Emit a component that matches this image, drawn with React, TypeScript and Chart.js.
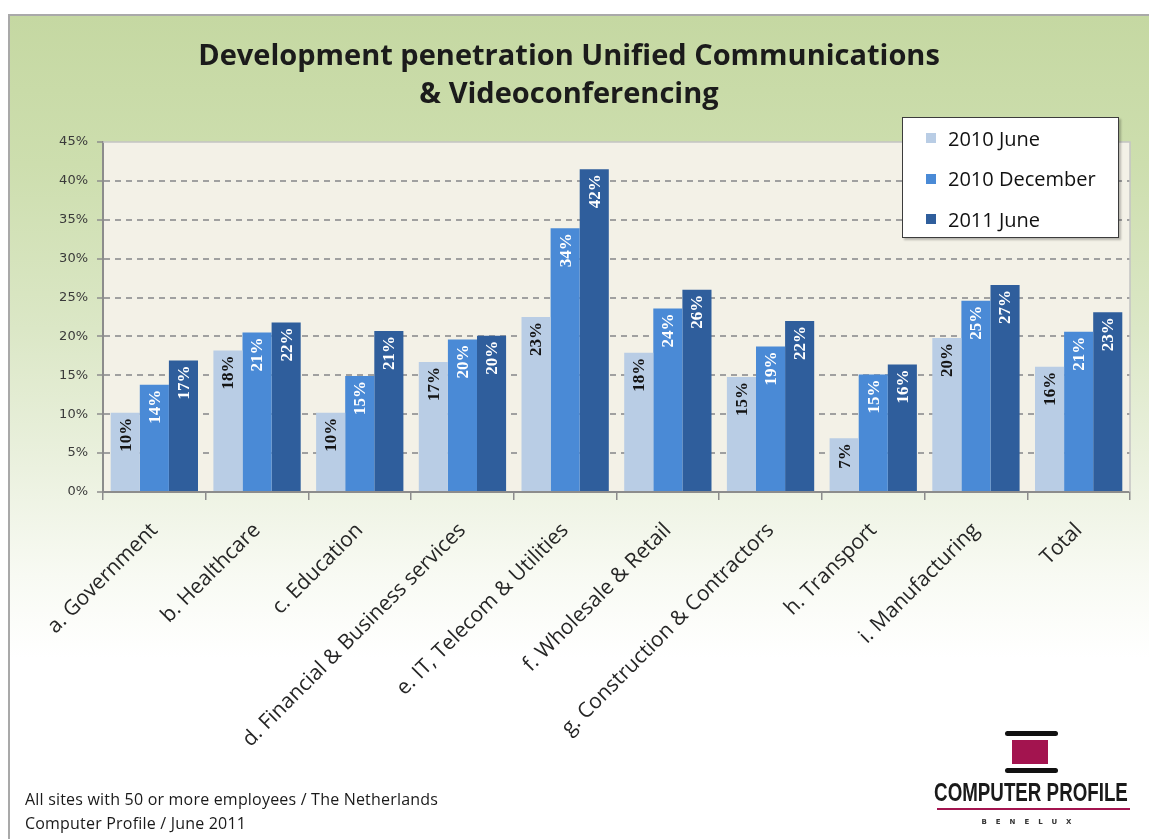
import React, { useEffect, useRef } from "react";
import { Chart, registerables } from "chart.js";

Chart.register(...registerables);

// ---------- data ----------
const categories = [
  "a. Government",
  "b. Healthcare",
  "c. Education",
  "d. Financial & Business services",
  "e. IT, Telecom & Utilities",
  "f. Wholesale & Retail",
  "g. Construction & Contractors",
  "h. Transport",
  "i. Manufacturing",
  "Total",
];
const seriesNames = ["2010 June", "2010 December", "2011 June"];
const june2010 = [10.2, 18.2, 10.2, 16.7, 22.5, 17.9, 14.8, 6.9, 19.8, 16.1];
const december2010 = [13.8, 20.5, 14.9, 19.6, 33.9, 23.6, 18.7, 15.1, 24.6, 20.6];
const june2011 = [16.9, 21.8, 20.7, 20.1, 41.5, 26.0, 22.0, 16.4, 26.6, 23.1];
const june2010Labels = [10, 18, 10, 17, 23, 18, 15, 7, 20, 16];
const december2010Labels = [14, 21, 15, 20, 34, 24, 19, 15, 25, 21];
const june2011Labels = [17, 22, 21, 20, 42, 26, 22, 16, 27, 23];
const yTickValues = [0, 5, 10, 15, 20, 25, 30, 35, 40, 45];
const titleLines = ["Development penetration Unified Communications", "& Videoconferencing"];
const footerLines = ["All sites with 50 or more employees / The Netherlands", "Computer Profile / June 2011"];

const seriesColors = ["#b9cde5", "#4a8ad6", "#2f5e9c"];
const labelColors = ["#141414", "#ffffff", "#ffffff"];
const seriesValues = [june2010, december2010, june2011];
const seriesLabels = [june2010Labels, december2010Labels, june2011Labels];

const W = 1149;
const H = 839;
const PLOT_BOTTOM = 492;

const plotBackground = {
  id: "plotBackground",
  beforeDraw(chart: any) {
    const { ctx, chartArea: a } = chart;
    ctx.save();
    ctx.fillStyle = "#f3f1e7";
    ctx.fillRect(a.left, a.top, a.right - a.left, a.bottom - a.top);
    ctx.restore();
  },
  afterDraw(chart: any) {
    const { ctx, chartArea: a } = chart;
    ctx.save();
    ctx.strokeStyle = "#c4c4c4";
    ctx.lineWidth = 1.5;
    ctx.beginPath();
    ctx.moveTo(a.left, a.top);
    ctx.lineTo(a.right, a.top);
    ctx.lineTo(a.right, a.bottom);
    ctx.stroke();
    ctx.restore();
  },
};

const barValueLabels = {
  id: "barValueLabels",
  afterDatasetsDraw(chart: any) {
    const ctx = chart.ctx;
    chart.data.datasets.forEach((_ds: any, di: number) => {
      const meta = chart.getDatasetMeta(di);
      meta.data.forEach((bar: any, i: number) => {
        const text = `${seriesLabels[di][i]}%`;
        ctx.save();
        ctx.translate(bar.x, bar.y + 5);
        ctx.rotate(-Math.PI / 2);
        ctx.textAlign = "right";
        ctx.textBaseline = "middle";
        ctx.font = 'bold 17px "Liberation Serif"';
        ctx.fillStyle = labelColors[di];
        ctx.fillText(text, 0, 1);
        ctx.restore();
      });
    });
  },
};

function ChartCanvas() {
  const ref = useRef<HTMLCanvasElement | null>(null);
  useEffect(() => {
    if (!ref.current) return;
    const chart = new Chart(ref.current, {
      type: "bar",
      data: {
        labels: categories,
        datasets: seriesNames.map((name, i) => ({
          label: name,
          data: seriesValues[i],
          backgroundColor: seriesColors[i],
          borderWidth: 0,
          categoryPercentage: 0.85,
          barPercentage: 1.0,
        })),
      },
      options: {
        animation: false,
        responsive: false,
        devicePixelRatio: 1,
        layout: { padding: { top: 0, left: 8, right: 19, bottom: 0 } },
        plugins: {
          legend: { display: false },
          tooltip: { enabled: false },
          title: {
            display: true,
            text: titleLines,
            color: "#1b1b1b",
            font: { family: "Open Sans", weight: "bold", size: 29, lineHeight: 38 / 29 },
            padding: { top: 38, bottom: 28 },
          },
        },
        scales: {
          x: {
            afterFit(scale: any) {
              scale.height = H - PLOT_BOTTOM;
            },
            grid: {
              offset: true,
              drawOnChartArea: false,
              drawTicks: true,
              tickLength: 8,
              color: "#8c8c8c",
              tickColor: "#8c8c8c",
              lineWidth: 1.5,
            },
            border: { display: true, color: "#8c8c8c", width: 2 },
            ticks: {
              autoSkip: false,
              minRotation: 45,
              maxRotation: 45,
              padding: 18,
              color: "#262626",
              font: { family: "Open Sans", size: 21 },
            },
          },
          y: {
            min: 0,
            max: 45,
            afterFit(scale: any) {
              scale.width = 95;
            },
            afterBuildTicks(scale: any) {
              scale.ticks = yTickValues.map((v) => ({ value: v }));
            },
            grid: {
              color: (c: any) =>
                c.tick && (c.tick.value === 0 || c.tick.value === 45) ? "rgba(0,0,0,0)" : "#a0a0a0",
              lineWidth: 2,
              tickLength: 6,
              tickColor: "#8c8c8c",
              tickWidth: 1.5,
              tickBorderDash: [],
            },
            border: { display: true, color: "#8c8c8c", width: 2, dash: [6, 5] },
            ticks: {
              padding: 9,
              color: "#3a3a3a",
              font: { family: "DejaVu Sans", size: 13 },
              callback: (v: any) => `${v}%`,
            },
          },
        },
      },
      plugins: [plotBackground, barValueLabels],
    });
    return () => chart.destroy();
  }, []);
  return (
    <canvas
      ref={ref}
      width={W}
      height={H}
      style={{ position: "absolute", left: 0, top: 0, width: W, height: H, zIndex: 1 }}
    />
  );
}

export default function App() {
  return (
    <div
      style={{
        position: "absolute",
        left: 0,
        top: 0,
        width: W,
        height: H,
        overflow: "hidden",
        background: "#ffffff",
      }}
    >
      <div
        style={{
          position: "absolute",
          left: 8,
          top: 14,
          right: 0,
          bottom: 0,
          borderLeft: "2px solid #a9a9a9",
          borderTop: "2px solid #a9a9a9",
          background:
            "linear-gradient(to bottom, #c5d8a2 0%, #cddeae 18%, #dbe7c6 38%, #ebf1df 55%, #f8faf3 68%, #ffffff 78%)",
        }}
      />
      <ChartCanvas />
      {/* legend */}
      <div
        style={{
          position: "absolute",
          left: 902,
          top: 117,
          width: 215,
          height: 119,
          background: "#ffffff",
          border: "1px solid #3c3c3c",
          boxShadow: "2px 2px 2px rgba(0,0,0,0.25)",
          zIndex: 2,
          fontFamily: "'Open Sans'",
          fontSize: 20,
          color: "#111",
        }}
      >
        {seriesNames.map((n, i) => (
          <div
            key={n}
            style={{
              position: "absolute",
              left: 23,
              top: 20 + i * 40.5 - 14,
              height: 28,
              display: "flex",
              alignItems: "center",
              whiteSpace: "nowrap",
            }}
          >
            <span
              style={{ display: "inline-block", width: 10, height: 10, background: seriesColors[i], marginRight: 12 }}
            />
            <span>{n}</span>
          </div>
        ))}
      </div>
      {/* footer */}
      <div
        style={{
          position: "absolute",
          left: 25,
          top: 787,
          zIndex: 2,
          fontFamily: "'Open Sans'",
          fontSize: 16,
          lineHeight: "24px",
          color: "#1a1a1a",
          letterSpacing: 0.2,
          whiteSpace: "nowrap",
        }}
      >
        {footerLines.map((l) => (
          <div key={l}>{l}</div>
        ))}
      </div>
      {/* logo */}
      <div style={{ position: "absolute", left: 1005, top: 731, width: 53, height: 5, background: "#111", borderRadius: 3, zIndex: 2 }} />
      <div style={{ position: "absolute", left: 1012, top: 740, width: 36, height: 24, background: "#a3144f", zIndex: 2 }} />
      <div style={{ position: "absolute", left: 1005, top: 768, width: 53, height: 5, background: "#111", borderRadius: 3, zIndex: 2 }} />
      <div
        style={{
          position: "absolute",
          left: 1031,
          top: 778,
          zIndex: 2,
          transform: "translateX(-50%) scaleX(0.75)",
          fontFamily: "'Liberation Sans'",
          fontWeight: "bold",
          fontSize: 25,
          lineHeight: "28px",
          color: "#1a1a1a",
          whiteSpace: "nowrap",
        }}
      >
        COMPUTER PROFILE
      </div>
      <div style={{ position: "absolute", left: 937, top: 808, width: 193, height: 2, background: "#a3144f", zIndex: 2 }} />
      <div
        style={{
          position: "absolute",
          left: 1031,
          top: 818,
          zIndex: 2,
          transform: "translateX(-50%)",
          fontFamily: "'DejaVu Sans'",
          fontWeight: "bold",
          fontSize: 7,
          letterSpacing: 9,
          color: "#333",
          whiteSpace: "nowrap",
        }}
      >
        BENELUX
      </div>
    </div>
  );
}
